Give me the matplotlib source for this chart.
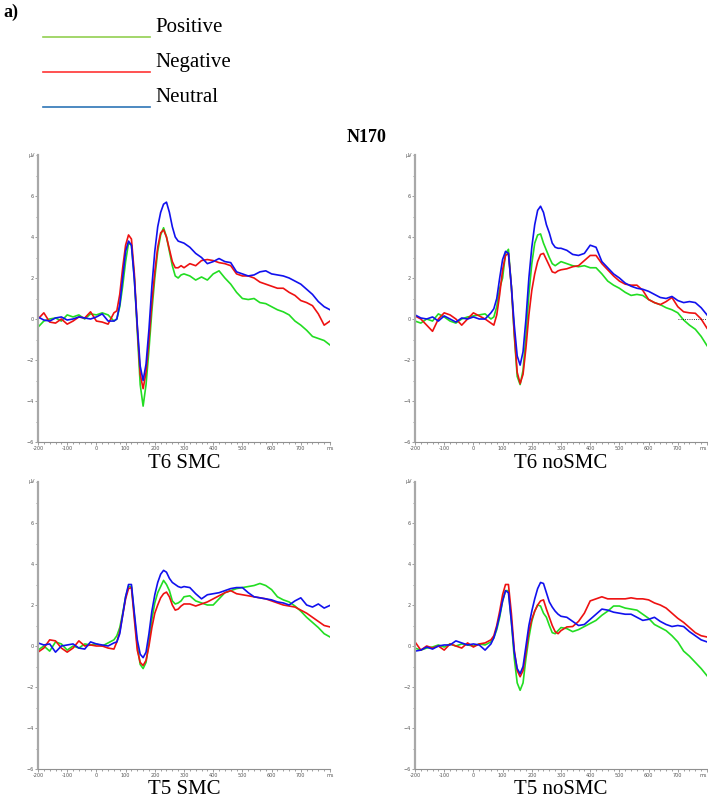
import numpy as np
import matplotlib.pyplot as plt
from matplotlib.lines import Line2D
from matplotlib.ticker import MultipleLocator

# time grid, ms
t = np.array(list(range(-200, 61, 20)) + list(range(70, 301, 10)) + list(range(320, 801, 20)))

# T6 SMC
t6smc_pos = [-0.4, -0.1, 0.0, 0.05, -0.1, 0.2, 0.1, 0.2, 0.0, 0.25, 0.2, 0.3, 0.2, -0.1,
             0.0, 0.6, 1.6, 2.8, 3.7, 3.6, 2.0, -0.6, -3.2, -4.25, -3.2, -1.5, 0.4, 2.0, 3.3, 4.1, 4.45, 4.0, 3.3, 2.6, 2.1, 2.0, 2.15, 2.2,
             2.1, 1.9, 2.05, 1.9, 2.2, 2.35, 2.0, 1.7, 1.3, 1.0, 0.95, 1.0, 0.8, 0.75, 0.6, 0.45, 0.35, 0.2, -0.1, -0.3, -0.55, -0.85, -0.95, -1.05, -1.27]
t6smc_neg = [0.0, 0.3, -0.15, -0.2, 0.0, -0.25, -0.1, 0.1, 0.05, 0.35, -0.1, -0.15, -0.25, 0.3,
             0.4, 1.2, 2.5, 3.6, 4.1, 3.9, 2.2, -0.4, -2.7, -3.4, -2.6, -1.0, 0.8, 2.3, 3.5, 4.2, 4.35, 4.0, 3.4, 2.8, 2.5, 2.5, 2.6, 2.5,
             2.7, 2.6, 2.85, 2.9, 2.85, 2.75, 2.7, 2.6, 2.2, 2.1, 2.1, 2.0, 1.8, 1.7, 1.6, 1.5, 1.5, 1.3, 1.15, 0.9, 0.8, 0.65, 0.25, -0.3, -0.1]
t6smc_neu = [0.1, -0.05, -0.1, 0.05, 0.1, -0.05, 0.0, 0.1, 0.05, 0.0, 0.1, 0.25, -0.1, -0.1,
             0.0, 0.7, 2.0, 3.3, 3.8, 3.6, 1.9, -0.3, -2.3, -3.0, -2.2, -0.5, 1.6, 3.3, 4.5, 5.2, 5.6, 5.7, 5.2, 4.5, 4.0, 3.8, 3.75, 3.7,
             3.5, 3.2, 3.0, 2.7, 2.8, 2.95, 2.8, 2.75, 2.3, 2.2, 2.1, 2.15, 2.3, 2.35, 2.2, 2.15, 2.1, 2.0, 1.85, 1.7, 1.45, 1.2, 0.85, 0.6, 0.45]

# T6 noSMC
t6nosmc_pos = [-0.1, -0.2, 0.0, -0.1, 0.25, 0.1, -0.1, -0.2, 0.0, 0.1, 0.15, 0.2, 0.25, 0.0,
               0.1, 0.6, 1.5, 2.0, 3.2, 3.4, 1.6, -0.8, -2.8, -3.2, -2.5, -0.8, 1.2, 2.7, 3.7, 4.1, 4.15, 3.7, 3.35, 3.0, 2.7, 2.6, 2.7, 2.8,
               2.7, 2.6, 2.55, 2.6, 2.5, 2.5, 2.2, 1.85, 1.65, 1.5, 1.3, 1.15, 1.2, 1.15, 0.95, 0.8, 0.7, 0.55, 0.45, 0.3, -0.05, -0.3, -0.5, -0.85, -1.3]
t6nosmc_neg = [0.15, 0.0, -0.3, -0.6, 0.0, 0.3, 0.2, 0.0, -0.3, 0.0, 0.3, 0.15, 0.0, -0.2,
               -0.3, 0.2, 1.2, 2.4, 3.1, 3.2, 1.6, -0.7, -2.6, -3.15, -2.7, -1.4, 0.2, 1.4, 2.2, 2.8, 3.15, 3.2, 2.9, 2.6, 2.3, 2.25, 2.35, 2.4,
               2.45, 2.55, 2.6, 2.85, 3.1, 3.1, 2.7, 2.4, 2.1, 1.85, 1.7, 1.65, 1.65, 1.4, 0.95, 0.8, 0.7, 0.85, 1.05, 0.6, 0.35, 0.3, 0.28, 0.0, -0.45]
t6nosmc_neu = [0.2, 0.05, 0.0, 0.1, -0.1, 0.15, 0.0, -0.15, 0.05, 0.0, 0.1, 0.0, 0.0, 0.3,
               0.5, 1.0, 2.0, 2.9, 3.3, 3.2, 1.6, -0.3, -1.8, -2.25, -1.6, 0.0, 2.0, 3.5, 4.6, 5.3, 5.5, 5.2, 4.6, 4.2, 3.7, 3.5, 3.45, 3.45,
               3.35, 3.15, 3.1, 3.2, 3.6, 3.5, 2.8, 2.5, 2.2, 2.0, 1.75, 1.6, 1.5, 1.45, 1.35, 1.2, 1.05, 1.0, 1.1, 0.9, 0.8, 0.85, 0.8, 0.55, 0.2]

# T5 SMC
t5smc_pos = [-0.2, 0.0, -0.25, 0.2, 0.1, -0.2, 0.0, -0.1, 0.1, 0.05, 0.1, 0.0, 0.15, 0.3,
             0.5, 0.9, 1.6, 2.4, 2.9, 2.9, 1.5, 0.0, -0.9, -1.1, -0.8, 0.2, 1.3, 2.1, 2.6, 2.9, 3.2, 3.0, 2.7, 2.2, 2.05, 2.1, 2.2, 2.4,
             2.45, 2.2, 2.1, 2.0, 2.0, 2.3, 2.6, 2.7, 2.8, 2.85, 2.9, 2.95, 3.05, 2.95, 2.75, 2.4, 2.25, 2.15, 1.95, 1.7, 1.4, 1.15, 0.9, 0.6, 0.44]
t5smc_neg = [-0.3, -0.1, 0.3, 0.25, -0.1, -0.3, -0.1, 0.25, 0.0, 0.05, 0.0, 0.0, -0.1, -0.15,
             0.2, 0.7, 1.5, 2.3, 2.8, 2.85, 1.3, -0.2, -0.8, -0.95, -0.7, 0.0, 0.9, 1.6, 2.0, 2.35, 2.55, 2.63, 2.4, 2.0, 1.75, 1.8, 1.95, 2.05,
             2.05, 1.95, 2.05, 2.15, 2.3, 2.45, 2.6, 2.7, 2.55, 2.5, 2.45, 2.4, 2.35, 2.3, 2.2, 2.1, 2.0, 1.95, 1.9, 1.75, 1.6, 1.4, 1.2, 1.0, 0.93]
t5smc_neu = [0.15, 0.05, 0.1, -0.3, 0.0, 0.05, 0.1, -0.1, -0.15, 0.2, 0.1, 0.05, 0.0, 0.15,
             0.2, 0.6, 1.5, 2.4, 3.0, 3.0, 1.6, 0.3, -0.4, -0.57, -0.3, 0.6, 1.7, 2.5, 3.1, 3.5, 3.69, 3.6, 3.3, 3.1, 3.0, 2.9, 2.85, 2.9,
             2.85, 2.55, 2.3, 2.5, 2.55, 2.6, 2.7, 2.8, 2.85, 2.85, 2.6, 2.4, 2.35, 2.3, 2.25, 2.15, 2.1, 2.0, 2.2, 2.35, 2.0, 1.9, 2.05, 1.85, 1.98]

# T5 noSMC
t5nosmc_pos = [-0.1, -0.2, -0.1, -0.05, 0.05, -0.05, 0.1, 0.0, 0.1, 0.05, 0.0, 0.1, 0.05, 0.2,
               0.4, 0.8, 1.4, 2.2, 2.7, 2.7, 1.2, -0.6, -1.8, -2.16, -1.8, -0.6, 0.4, 1.2, 1.7, 2.0, 1.95, 1.6, 1.4, 1.0, 0.65, 0.6, 0.75, 0.9,
               0.85, 0.7, 0.8, 0.95, 1.1, 1.25, 1.5, 1.7, 1.95, 1.95, 1.85, 1.8, 1.75, 1.55, 1.35, 1.05, 0.9, 0.75, 0.5, 0.2, -0.25, -0.5, -0.8, -1.1, -1.45]
t5nosmc_neg = [0.2, -0.2, 0.0, -0.1, 0.0, -0.2, 0.1, 0.0, -0.1, 0.15, -0.05, 0.1, 0.15, 0.3,
               0.5, 1.0, 1.7, 2.5, 3.0, 3.0, 1.6, -0.2, -1.2, -1.5, -1.2, -0.3, 0.7, 1.3, 1.7, 2.0, 2.2, 2.25, 1.8, 1.4, 1.0, 0.7, 0.6, 0.75,
               0.93, 0.95, 1.2, 1.6, 2.2, 2.3, 2.4, 2.3, 2.3, 2.3, 2.3, 2.35, 2.3, 2.3, 2.25, 2.1, 2.0, 1.85, 1.6, 1.35, 1.15, 0.9, 0.65, 0.5, 0.44]
t5nosmc_neu = [-0.25, -0.2, -0.05, -0.15, 0.0, 0.05, 0.05, 0.25, 0.15, 0.05, 0.1, 0.05, -0.2, 0.1,
               0.4, 0.9, 1.5, 2.2, 2.7, 2.6, 1.2, -0.3, -1.1, -1.35, -1.0, 0.0, 1.0, 1.7, 2.3, 2.8, 3.1, 3.05, 2.6, 2.15, 1.9, 1.7, 1.55, 1.45,
               1.4, 1.2, 1.0, 1.05, 1.3, 1.55, 1.8, 1.75, 1.65, 1.6, 1.55, 1.55, 1.4, 1.25, 1.3, 1.4, 1.2, 1.05, 0.95, 1.0, 0.95, 0.7, 0.5, 0.3, 0.2]

panels = [
    ("T6 SMC", [t6smc_pos, t6smc_neg, t6smc_neu]),
    ("T6 noSMC", [t6nosmc_pos, t6nosmc_neg, t6nosmc_neu]),
    ("T5 SMC", [t5smc_pos, t5smc_neg, t5smc_neu]),
    ("T5 noSMC", [t5nosmc_pos, t5nosmc_neg, t5nosmc_neu]),
]
line_colors = ["#22dd22", "#ee1111", "#1111ee"]

legend_names = ["Positive", "Negative", "Neutral"]
legend_colors = ["#92d050", "#ff3333", "#2e75b6"]

serif = ["Liberation Serif", "DejaVu Serif"]

W, H = 708, 799
fig = plt.figure(figsize=(W / 100, H / 100), dpi=100)

# axes boxes in pixels: left, top, right, bottom
boxes = [(38, 155, 330, 442), (415, 155, 707, 442), (38, 482, 330, 769), (415, 482, 707, 769)]

for k, ((name, series), (l, tp, r, b)) in enumerate(zip(panels, boxes)):
    ax = fig.add_axes([l / W, 1 - b / H, (r - l) / W, (b - tp) / H])
    for vals, c in zip(series, line_colors):
        ax.plot(t, vals, color=c, lw=1.2)
    if name == "T6 noSMC":
        ax.hlines(0, 700, 800, colors="k", linestyles=":", lw=0.6)
    ax.set_xlim(-200, 800)
    ax.set_ylim(-6, 8)
    for s in ["top", "right"]:
        ax.spines[s].set_visible(False)
    ax.spines["left"].set_color("#a8a8a8")
    ax.spines["left"].set_linewidth(1.6)
    ax.spines["bottom"].set_color("#909090")
    ax.spines["bottom"].set_linewidth(0.8)
    ax.set_xticks(range(-200, 801, 100))
    ax.set_xticklabels([str(v) for v in range(-200, 701, 100)] + ["ms"])
    if k % 2 == 1:
        ax.get_xticklabels()[-1].set_horizontalalignment("right")
    ax.set_yticks(range(-6, 7, 2))
    ax.xaxis.set_minor_locator(MultipleLocator(20))
    ax.yaxis.set_minor_locator(MultipleLocator(1))
    ax.tick_params(which="both", labelsize=3.5, labelcolor="#555555", color="#777777",
                   length=2, width=0.5, pad=1)
    ax.tick_params(which="minor", length=1.2)
    ax.text(-0.01, 1.0, "µV", transform=ax.transAxes, fontsize=3.5, color="#555555",
            ha="right", va="center")
    fig.text((l + r) / 2 / W, 1 - (b + 21) / H, name, ha="center", va="center",
             fontsize=15, family=serif)

fig.text(367 / W, 1 - 137 / H, "N170", ha="center", va="center", fontsize=13,
         fontweight="bold", family=serif)
fig.text(3 / W, 1 - 12 / H, "a)", ha="left", va="center", fontsize=13,
         fontweight="bold", family=serif)

# legend drawn by hand
for i, (nm, c) in enumerate(zip(legend_names, legend_colors)):
    y = 37 + 35 * i
    fig.add_artist(Line2D([43 / W, 150 / W], [1 - y / H, 1 - y / H], color=c, lw=1.2))
    fig.text(155 / W, 1 - (y - 10) / H, nm, ha="left", va="center", fontsize=15, family=serif)

fig.savefig("out.png", dpi=100)
